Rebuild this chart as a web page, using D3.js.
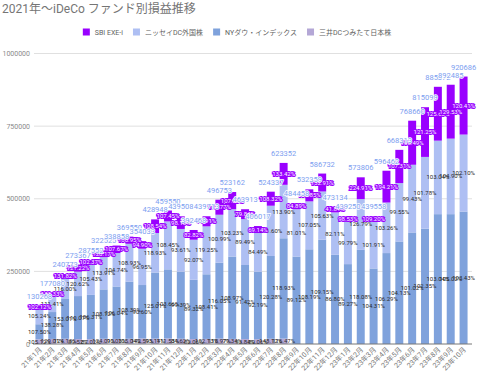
<!DOCTYPE html>
<html>
<head>
<meta charset="utf-8">
<script src="https://cdn.jsdelivr.net/npm/d3@7"></script>
<style>
body { margin: 0; background: #fff; }
text { font-family: Roboto, "Noto Sans CJK JP", sans-serif; }
</style>
</head>
<body>
<div id="chart"></div>
<script>
var months = ["21年1月","21年2月","21年3月","21年4月","21年5月","21年6月","21年7月","21年8月","21年9月","21年10月","21年11月","21年12月",
              "22年1月","22年2月","22年3月","22年4月","22年5月","22年6月","22年7月","22年8月","22年9月","22年10月","22年11月","22年12月",
              "23年1月","23年2月","23年3月","23年4月","23年5月","23年6月","23年7月","23年8月","23年9月","23年10月"];

// values per fund (yen), bottom to top of the stack
var mitsui = [16000,17500,18000,17000,16500,18000,17500,18000,19000,18500,19000,18000,
              17000,17500,18500,17500,17000,16500,18000,18500,0,0,0,0,
              0,0,0,0,0,0,0,0,0,0];
var nydow  = [52000,92500,137000,148000,152500,170000,180500,197000,184000,227500,238000,231000,
              204000,222500,261500,283500,255000,232500,285000,345500,301000,326000,359000,307000,
              275000,324000,260000,313000,353000,384000,397000,447000,447000,456000];
var nissei = [54000,55000,72000,84000,107000,111000,115000,130000,125000,136000,165000,147000,
              138000,165000,165000,163000,158000,133000,173000,184000,163000,165000,166000,146000,
              147000,175000,162000,174000,201000,233000,247000,253000,260000,265000];
var sbi    = [8268,12080,13773,24367,11552,23525,25858,24550,26033,46948,37550,43508,
              33468,34713,51753,59162,33913,24017,48337,75352,20458,41359,61732,20134,
              17250,74806,17558,109462,114313,151660,171099,185372,185485,199686];

// data label text (return rate per fund)
var sbiPct = ["102.12%","133.33%","131.82%","121.22%","102.37%","120.17%","107.67%","106.95%","94.90%","108.54%","107.45%","98.10%",
              "82.82%","96.91%","103.77%","107.25%","79.84%","69.14%","108.32%","133.42%","84.89%","108.85%","132.91%","41.81%",
              "98.53%","224.91%","109.20%","194.21%","107.31%","108.49%","121.25%","125.63%","129.53%","120.41%"];
var nisseiPct = ["105.24%","111.41%","116.00%","120.62%","105.43%","113.91%","104.74%","108.93%","96.95%","118.93%","108.45%","93.61%",
                 "92.07%","119.25%","100.99%","103.23%","89.49%","84.49%","111.60%","113.90%","81.01%","107.05%","105.63%","82.11%",
                 "99.79%","126.79%","101.91%","103.26%","99.55%","99.43%","101.78%","103.04%","104.90%","102.10%"];
var nydowPct = ["107.50%","138.28%","153.01%","110.07%","106.31%","108.12%","106.04%","108.39%","90.60%","125.01%","103.66%","99.39%",
                "89.32%","108.41%","116.05%","108.97%","91.42%","92.19%","120.28%","118.93%","89.12%","108.19%","109.15%","86.80%",
                "89.27%","118.08%","104.31%","106.29%","104.13%","101.02%","102.35%","103.04%","105.02%","103.43%"];
var mitsuiPct = ["105.12%","129.01%","124.13%","89.52%","87.02%","124.01%","90.03%","105.04%","142.59%","93.14%","111.53%","84.62%",
                 "82.06%","102.13%","118.97%","79.34%","93.84%","89.06%","148.12%","116.47%","","","","",
                 "","","","","","","","","",""];

var yTicks = [0, 250000, 500000, 750000, 1000000];

var series = [
    {key: "mitsui", name: "三井DCつみたて日本株", color: "#b4a7d6", labels: mitsuiPct},
    {key: "nydow",  name: "NYダウ・インデックス",  color: "#7fa2dc", labels: nydowPct},
    {key: "nissei", name: "ニッセイDC外国株",      color: "#aebff3", labels: nisseiPct},
    {key: "sbi",    name: "SBI EXE-i",           color: "#9900ff", labels: sbiPct}
];
var legendOrder = ["sbi", "nissei", "nydow", "mitsui"];

var width = 480,
    height = 376;

var rows = months.map(function(m, i) {
    return {month: m, mitsui: mitsui[i], nydow: nydow[i], nissei: nissei[i], sbi: sbi[i]};
});

var svg = d3.select("#chart").append("svg")
            .attr("width", width)
            .attr("height", height);

var x = d3.scaleBand()
          .domain(months)
          .range([33, 470])
          .paddingInner(0.38)
          .paddingOuter(0.19);

var y = d3.scaleLinear()
          .domain([0, 1000000])
          .range([344, 53.5]);

// title
svg.append("text")
   .attr("x", 2)
   .attr("y", 13)
   .style("font-size", "12px")
   .style("fill", "#757575")
   .text("2021年〜iDeCo ファンド別損益推移");

// legend
var legend = svg.append("g");
var lx = 0;
legendOrder.forEach(function(k) {
    var s = series.find(function(d) { return d.key === k; });
    var g = legend.append("g").attr("transform", "translate(" + lx + ",0)");
    g.append("rect")
     .attr("x", 0).attr("y", 28.5)
     .attr("width", 7).attr("height", 7)
     .attr("fill", s.color);
    var t = g.append("text")
     .attr("x", 12).attr("y", 34.5)
     .style("font-size", "7px")
     .style("fill", "#5f5f5f")
     .text(s.name);
    lx += 12 + t.node().getComputedTextLength() + 10;
});
legend.attr("transform", "translate(" + (237 - (lx - 10) / 2) + ",0)");

// gridlines + y labels
svg.append("g").selectAll("line")
   .data(yTicks.slice(1))
   .enter().append("line")
   .attr("x1", 34).attr("x2", 472)
   .attr("y1", function(d) { return y(d); })
   .attr("y2", function(d) { return y(d); })
   .style("stroke", "#e0e0e0")
   .style("stroke-width", 1);

svg.append("g").selectAll("text")
   .data(yTicks)
   .enter().append("text")
   .attr("x", 30)
   .attr("y", function(d) { return y(d) + 2.5; })
   .attr("text-anchor", "end")
   .style("font-size", "7px")
   .style("fill", "#8a8a8a")
   .text(function(d) { return d; });

// stacked bars
var stack = d3.stack().keys(series.map(function(s) { return s.key; }));
var stacked = stack(rows);

var layers = svg.append("g").selectAll("g")
    .data(stacked)
    .enter().append("g")
    .attr("fill", function(d, i) { return series[i].color; });

layers.selectAll("rect")
    .data(function(d) { return d; })
    .enter().append("rect")
    .attr("x", function(d) { return x(d.data.month); })
    .attr("y", function(d) { return y(d[1]); })
    .attr("width", x.bandwidth())
    .attr("height", function(d) { return y(d[0]) - y(d[1]); });

// baseline
svg.append("line")
   .attr("x1", 33).attr("x2", 472)
   .attr("y1", y(0)).attr("y2", y(0))
   .style("stroke", "#777")
   .style("stroke-width", 1);

// segment labels
stacked.forEach(function(layer, li) {
    var s = series[li];
    svg.append("g").selectAll("text")
       .data(layer)
       .enter().append("text")
       .filter(function(d, i) { return s.labels[i] !== ""; })
       .attr("x", function(d) { return x(d.data.month) + x.bandwidth() / 2; })
       .attr("y", function(d) { return (y(d[0]) + y(d[1])) / 2 + 2; })
       .attr("text-anchor", "middle")
       .style("font-size", "6px")
       .style("fill", s.key === "sbi" ? "#fbf4ff" : "#2b2b2b")
       .style("stroke", s.key === "sbi" ? "#9900ff" : "none")
       .style("stroke-width", 2)
       .style("paint-order", "stroke")
       .text(function(d, i) { return s.labels[months.indexOf(d.data.month)]; });
});

// totals above bars
svg.append("g").selectAll("text")
   .data(rows)
   .enter().append("text")
   .attr("x", function(d) { return x(d.month) + x.bandwidth() / 2; })
   .attr("y", function(d) { return y(d.mitsui + d.nydow + d.nissei + d.sbi) - 7; })
   .attr("text-anchor", "middle")
   .style("font-size", "7.5px")
   .style("fill", "#7c9ef0")
   .style("stroke", "#fff")
   .style("stroke-width", 1.5)
   .style("paint-order", "stroke")
   .text(function(d) { return d.mitsui + d.nydow + d.nissei + d.sbi; });

// x axis labels
svg.append("g").selectAll("text")
   .data(months)
   .enter().append("text")
   .attr("transform", function(d) {
       return "translate(" + (x(d) + x.bandwidth() / 2 + 3) + ",350) rotate(-45)";
   })
   .attr("text-anchor", "end")
   .style("font-size", "7px")
   .style("fill", "#777")
   .text(function(d) { return d; });
</script>
</body>
</html>
